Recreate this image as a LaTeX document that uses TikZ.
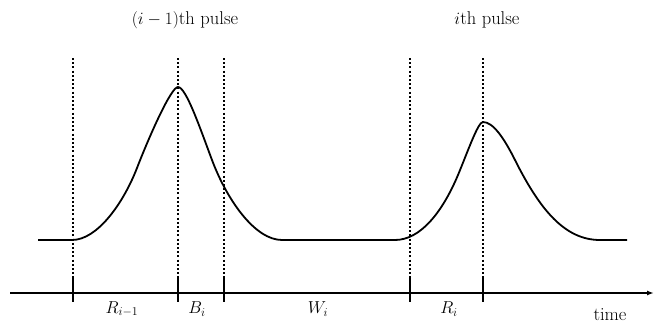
\documentclass[tikz,border=0pt]{standalone}
\usetikzlibrary{arrows.meta}
\begin{document}
\begin{tikzpicture}[x=1pt,y=-1pt,
  pulse/.style={line width=1.8pt, line join=round},
  guide/.style={line width=1.5pt, dash pattern=on 2pt off 2.2pt},
  tick/.style={line width=1.3pt},
  axisline/.style={line width=1.4pt, -{Latex[length=7pt,width=5pt]}},
  lbl/.style={inner sep=0pt, font=\fontsize{18.5}{22}\selectfont}]
\useasboundingbox (0,0) rectangle (654,324);
\foreach \x [count=\k] in {73,178,224,410,483} {
  \coordinate (top\k) at (\x,58);
  \coordinate (mid\k) at (\x,277);
  \coordinate (bot\k) at (\x,302);
  \draw[guide] (top\k) -- (mid\k);
  \draw[tick] (mid\k) -- (bot\k);
}
\coordinate (axs) at (10,293);
\coordinate (axe) at (654,293);
\draw[axisline] (axs) -- (axe);
% pulses
\draw[pulse] (38,240) -- (72,240)
  .. controls (97,240) and (123,204) .. (137,168)
  .. controls (149,137) and (171,87) .. (178,87)
  .. controls (186,87) and (200,128) .. (212,160)
  .. controls (227,200) and (255,240) .. (282,240)
  -- (395,240)
  .. controls (420,240) and (442,213) .. (458,175)
  .. controls (468,151) and (478,122) .. (483,122)
  .. controls (493,122) and (504,138) .. (515,160)
  .. controls (540,210) and (565,240) .. (600,240)
  -- (627,240);
% labels
\node[lbl] (t1) at (185,20) {$(i-1)$th pulse};
\node[lbl] (t2) at (487,20) {$i$th pulse};
\node[lbl] (l1) at (122,309) {$R_{i-1}$};
\node[lbl] (l2) at (197,309) {$B_i$};
\node[lbl] (l3) at (318,309) {$W_i$};
\node[lbl] (l4) at (449,309) {$R_i$};
\node[lbl] (l5) at (610,315) {time};
\end{tikzpicture}
\end{document}
